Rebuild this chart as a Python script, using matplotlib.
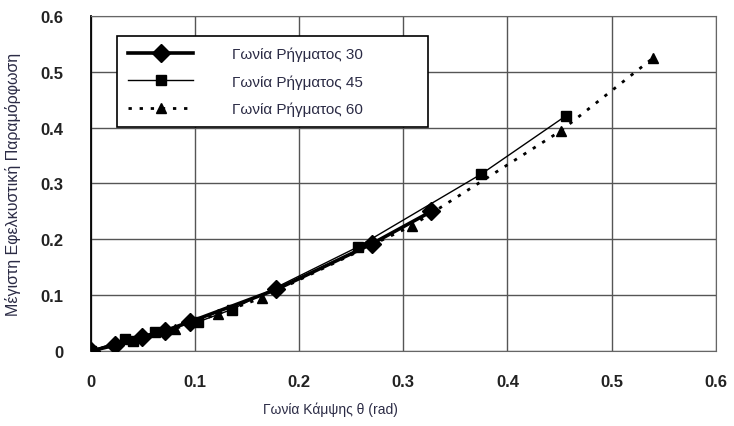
import matplotlib
matplotlib.use('Agg')
import matplotlib.pyplot as plt

plt.rcParams['font.family'] = ['Liberation Sans', 'DejaVu Sans']

# data
x_30 = [0, 0.023, 0.049, 0.071, 0.095, 0.178, 0.270, 0.327]
y_30 = [0, 0.010, 0.025, 0.036, 0.052, 0.110, 0.192, 0.250]

x_45 = [0, 0.033, 0.040, 0.061, 0.103, 0.135, 0.256, 0.375, 0.456]
y_45 = [0, 0.021, 0.018, 0.034, 0.052, 0.074, 0.186, 0.317, 0.421]

x_60 = [0, 0.081, 0.122, 0.164, 0.308, 0.451, 0.540]
y_60 = [0, 0.040, 0.066, 0.095, 0.224, 0.394, 0.525]

labels = ['Γωνία Ρήγματος 30', 'Γωνία Ρήγματος 45', 'Γωνία Ρήγματος 60']
ticks = [0, 0.1, 0.2, 0.3, 0.4, 0.5, 0.6]
tick_labels = ['0', '0.1', '0.2', '0.3', '0.4', '0.5', '0.6']

txt_col = '#2b2b45'

fig = plt.figure(figsize=(7.34, 4.27), dpi=100)
ax = fig.add_axes([0.124, 0.176, 0.851, 0.784])

ax.plot(x_30, y_30, color='black', lw=2.6, marker='D', ms=9, label=labels[0], zorder=4)
ax.plot(x_45, y_45, color='black', lw=1.0, marker='s', ms=7, label=labels[1], zorder=3)
ax.plot(x_60, y_60, color='black', lw=2.0, linestyle=(0, (1.2, 2.8)), marker='^', ms=7.5,
        label=labels[2], zorder=3)

ax.set_xlim(0, 0.6)
ax.set_ylim(0, 0.6)
ax.set_xticks(ticks)
ax.set_yticks(ticks)
ax.set_xticklabels(tick_labels, fontsize=12, fontweight='bold', color='#222222')
ax.set_yticklabels(tick_labels, fontsize=12, fontweight='bold', color='#222222')
ax.tick_params(axis='x', length=0, pad=17)
ax.tick_params(axis='y', length=0, pad=20)

ax.grid(True, color='#555555', lw=1.0)
ax.set_axisbelow(True)
for s in ['top', 'right', 'bottom']:
    ax.spines[s].set_color('#666666')
ax.spines['left'].set_color('black')
ax.spines['left'].set_linewidth(1.3)

ax.set_ylabel('Μέγιστη Εφελκυστική Παραμόρφωση', fontsize=11.5, color=txt_col)
ax.yaxis.set_label_coords(-0.112, 0.5)
fig.text(0.45, 0.03, 'Γωνία Κάμψης θ (rad)', fontsize=10, color=txt_col, ha='center')

leg = ax.legend(loc='upper left', bbox_to_anchor=(0.0416, 0.94, 0.4976, 0), mode='expand',
                fontsize=11, handlelength=4.3, handletextpad=2.5, borderpad=0.7,
                labelspacing=0.85, fancybox=False, edgecolor='black', framealpha=1,
                borderaxespad=0)
leg.get_frame().set_linewidth(1.2)
for t in leg.get_texts():
    t.set_color(txt_col)

fig.savefig('out.png', dpi=100)
